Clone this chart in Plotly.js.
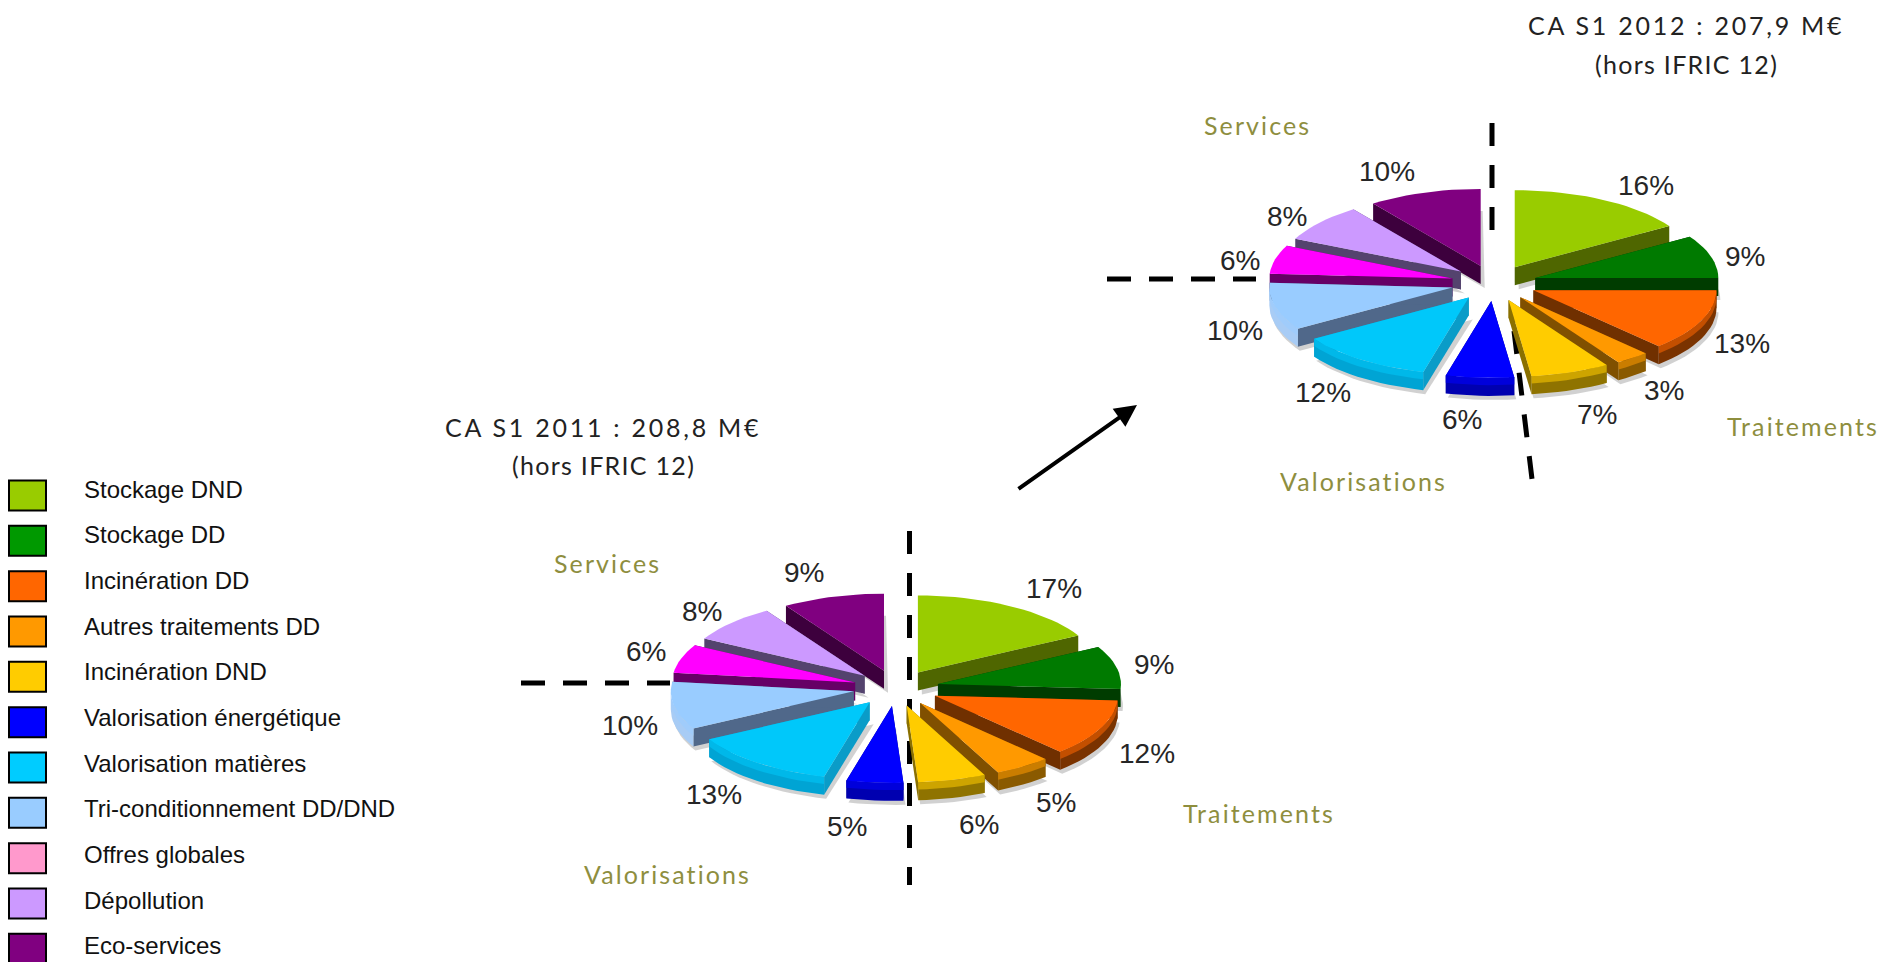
<!DOCTYPE html>
<html>
<head>
<meta charset="utf-8">
<script src="https://cdn.plot.ly/plotly-3.0.1.min.js"></script>
<style>
html,body{margin:0;padding:0;background:#fff;overflow:hidden}
text[data-unformatted^="CA S1"]{letter-spacing:2.75px}
text[data-unformatted^="(hors"]{letter-spacing:1.3px}
text[data-unformatted="Services"],text[data-unformatted="Traitements"],text[data-unformatted="Valorisations"]{letter-spacing:2.1px}
</style>
</head>
<body>
<div id="chart" style="width:1885px;height:962px"></div>
<script>
// ---- data ----
const categories = ["Stockage DND","Stockage DD","Incinération DD","Autres traitements DD","Incinération DND","Valorisation énergétique","Valorisation matières","Tri-conditionnement DD/DND","Offres globales","Dépollution","Eco-services"];
const values2011 = [17,9,12,5,6,5,13,10,6,8,9];
const values2012 = [16,9,13,3,7,6,12,10,6,8,10];
const title2011 = ["CA S1 2011 : 208,8 M€","(hors IFRIC 12)"];
const title2012 = ["CA S1 2012 : 207,9 M€","(hors IFRIC 12)"];
const groups = ["Services","Traitements","Valorisations"];

// ---- styles ----
const legendColors = ["#99CC00","#009900","#FF6600","#FF9900","#FFCC00","#0000FF","#00CCFF","#99CCFF","#FF99CC","#CC99FF","#800080"];
const topColors    = ["#99CC00","#007A00","#FF6600","#FF9900","#FFCC00","#0000FF","#00C8FA","#99CCFF","#FF00FF","#CC99FF","#800080"];
const faceColors   = ["#4F6600","#003C00","#703000","#805000","#8A7000","#000090","#0A9CC8","#50688A","#660066","#54436E","#3D003D"];
const rimColors    = ["#6E8F00","#005500","#7A3300","#8A5A00","#8F7300","#0000B0","#00A4D4","#A8CCF5","#990099","#8F6DB8","#520052"];

// ---- geometry (pixel-scale axes) ----
const RX = 183, RY = 77, EXPLODE_X = 43, EXPLODE_Y = 18, DEPTH = 18;
const pie2011 = {cx:896, cy:688};
const pie2012 = {cx:1494, cy:283};

function mix(a,b,t){
  const p=s=>[1,3,5].map(i=>parseInt(s.substr(i,2),16));
  const A=p(a),B=p(b);
  return "rgb("+A.map((v,i)=>Math.round(v+(B[i]-v)*t)).join(",")+")";
}
function poly(name,pts,color){
  return {type:"scatter",mode:"lines",name:name,x:pts.map(p=>p[0]).concat(pts[0][0]),y:pts.map(p=>p[1]).concat(pts[0][1]),
    fill:"toself",fillcolor:color,line:{width:0,color:color},hoverinfo:"skip",showlegend:false};
}
function pieTraces(values,pie){
  const total=values.reduce((a,b)=>a+b,0);
  let cum=0; const wedges=[];
  values.forEach((v,i)=>{
    const a0=cum/total*360, a1=(cum+v)/total*360; cum+=v;
    const mid=(a0+a1)/2*Math.PI/180;
    const ax=pie.cx+EXPLODE_X*Math.sin(mid), ay=pie.cy-EXPLODE_Y*Math.cos(mid);
    wedges.push({i,a0,a1,ax,ay});
  });
  wedges.sort((p,q)=>p.ay-q.ay);
  const out=[];
  wedges.forEach(w=>{
    const at=(deg,dy)=>{const r=deg*Math.PI/180;return [w.ax+RX*Math.sin(r),w.ay-RY*Math.cos(r)+(dy||0)];};
    const arc=(from,to,dy)=>{const n=Math.max(2,Math.ceil(Math.abs(to-from)/3));const o=[];for(let k=0;k<=n;k++)o.push(at(from+(to-from)*k/n,dy));return o;};
    const name=categories[w.i];
    const apex=[w.ax,w.ay];
    const top=[apex].concat(arc(w.a0,w.a1));
    // soft shadow
    out.push(poly(name,[[w.ax+2,w.ay+DEPTH+4]].concat(arc(w.a0,w.a1,DEPTH+4)).map(p=>[p[0]+2,p[1]]),"rgba(90,90,90,0.28)"));
    // radial faces
    [w.a0,w.a1].forEach(a=>{
      const e=at(a);
      out.push(poly(name,[apex,e,[e[0],e[1]+DEPTH],[apex[0],apex[1]+DEPTH]],faceColors[w.i]));
    });
    // rim on the front part of the ellipse
    const f0=Math.max(w.a0,90), f1=Math.min(w.a1,270);
    if(f1>f0){
      out.push(poly(name,arc(f0,f1,0).concat(arc(f1,f0,DEPTH)),rimColors[w.i]));
      out.push(poly(name,arc(f0,f1,0).concat(arc(f1,f0,DEPTH*0.4)),mix(rimColors[w.i],topColors[w.i],0.55)));
    }
    out.push(poly(name,top,topColors[w.i]));
  });
  return out;
}

// ---- annotations ----
const annotations=[];
function txt(x,y,text,font,anchor){
  annotations.push({xref:"x",yref:"y",x:x,y:y,text:text,showarrow:false,xanchor:anchor||"center",yanchor:"middle",font:font});
}
const pctFont={family:"Liberation Sans, Arial, sans-serif",size:28,color:"#262626"};
const pctPos2011=[[1054,588],[1154,664],[1147,753],[1056,802],[979,824],[847,826],[714,794],[630,725],[646,651],[702,611],[804,572]];
const pctPos2012=[[1646,185],[1745,256],[1742,343],[1664,390],[1597,414],[1462,419],[1323,392],[1235,330],[1240,260],[1287,216],[1387,171]];
values2011.forEach((v,i)=>txt(pctPos2011[i][0],pctPos2011[i][1],v+"%",pctFont));
values2012.forEach((v,i)=>txt(pctPos2012[i][0],pctPos2012[i][1],v+"%",pctFont));

const titleFont={family:"Lato, Open Sans, sans-serif",size:25,color:"#222222"};
txt(603,427,title2011[0],titleFont); txt(603,465,title2011[1],titleFont);
txt(1686,25,title2012[0],titleFont); txt(1686,64,title2012[1],titleFont);

const groupFont={family:"Lato, Open Sans, sans-serif",size:25,color:"#8E8E3E"};
const groupPos2011=[[607,563],[1259,813],[667,874]];
const groupPos2012=[[1257,125],[1803,426],[1363,481]];
groups.forEach((g,i)=>{txt(groupPos2011[i][0],groupPos2011[i][1],g,groupFont);txt(groupPos2012[i][0],groupPos2012[i][1],g,groupFont);});

// legend entries
const legFont={family:"Liberation Sans, Arial, sans-serif",size:24,color:"#111111"};
const shapes=[];
const SWATCH_TOP=480.5, SWATCH_STEP=45.33, LABEL_TOP=489, LABEL_STEP=45.67;
categories.forEach((c,i)=>{
  const y0=SWATCH_TOP+i*SWATCH_STEP;
  shapes.push({type:"rect",xref:"x",yref:"y",x0:9,x1:46,y0:y0,y1:y0+30,fillcolor:legendColors[i],line:{color:"#000",width:2},layer:"above"});
  txt(82,LABEL_TOP+i*LABEL_STEP,c,legFont,"left");
});

// dashed guides, drawn under the pies
function guide(x0,y0,x1,y1,dash){
  shapes.push({type:"line",xref:"x",yref:"y",x0,y0,x1,y1,line:{color:"#000",width:5,dash},layer:"below"});
}
guide(521,683,670,683,"24px,18px");
guide(909.5,531,909.5,885,"23px,19px");
guide(1107,279,1256,279,"24px,18px");
guide(1492,123,1492,235,"23px,19px");
guide(1514,331,1532,479,"23px,19px");

// arrow
annotations.push({xref:"x",yref:"y",axref:"x",ayref:"y",x:1137,y:405,ax:1017,ay:490,text:"",showarrow:true,arrowhead:2,arrowsize:1.1,arrowwidth:4,arrowcolor:"#000"});

const traces=pieTraces(values2011,pie2011).concat(pieTraces(values2012,pie2012));
const layout={
  width:1885,height:962,margin:{l:0,r:0,t:0,b:0},paper_bgcolor:"#fff",plot_bgcolor:"#fff",showlegend:false,hovermode:false,
  xaxis:{range:[0,1885],visible:false,fixedrange:true},
  yaxis:{range:[962,0],visible:false,fixedrange:true},
  shapes,annotations
};
Plotly.newPlot("chart",traces,layout,{displayModeBar:false,staticPlot:true});
</script>
</body>
</html>
